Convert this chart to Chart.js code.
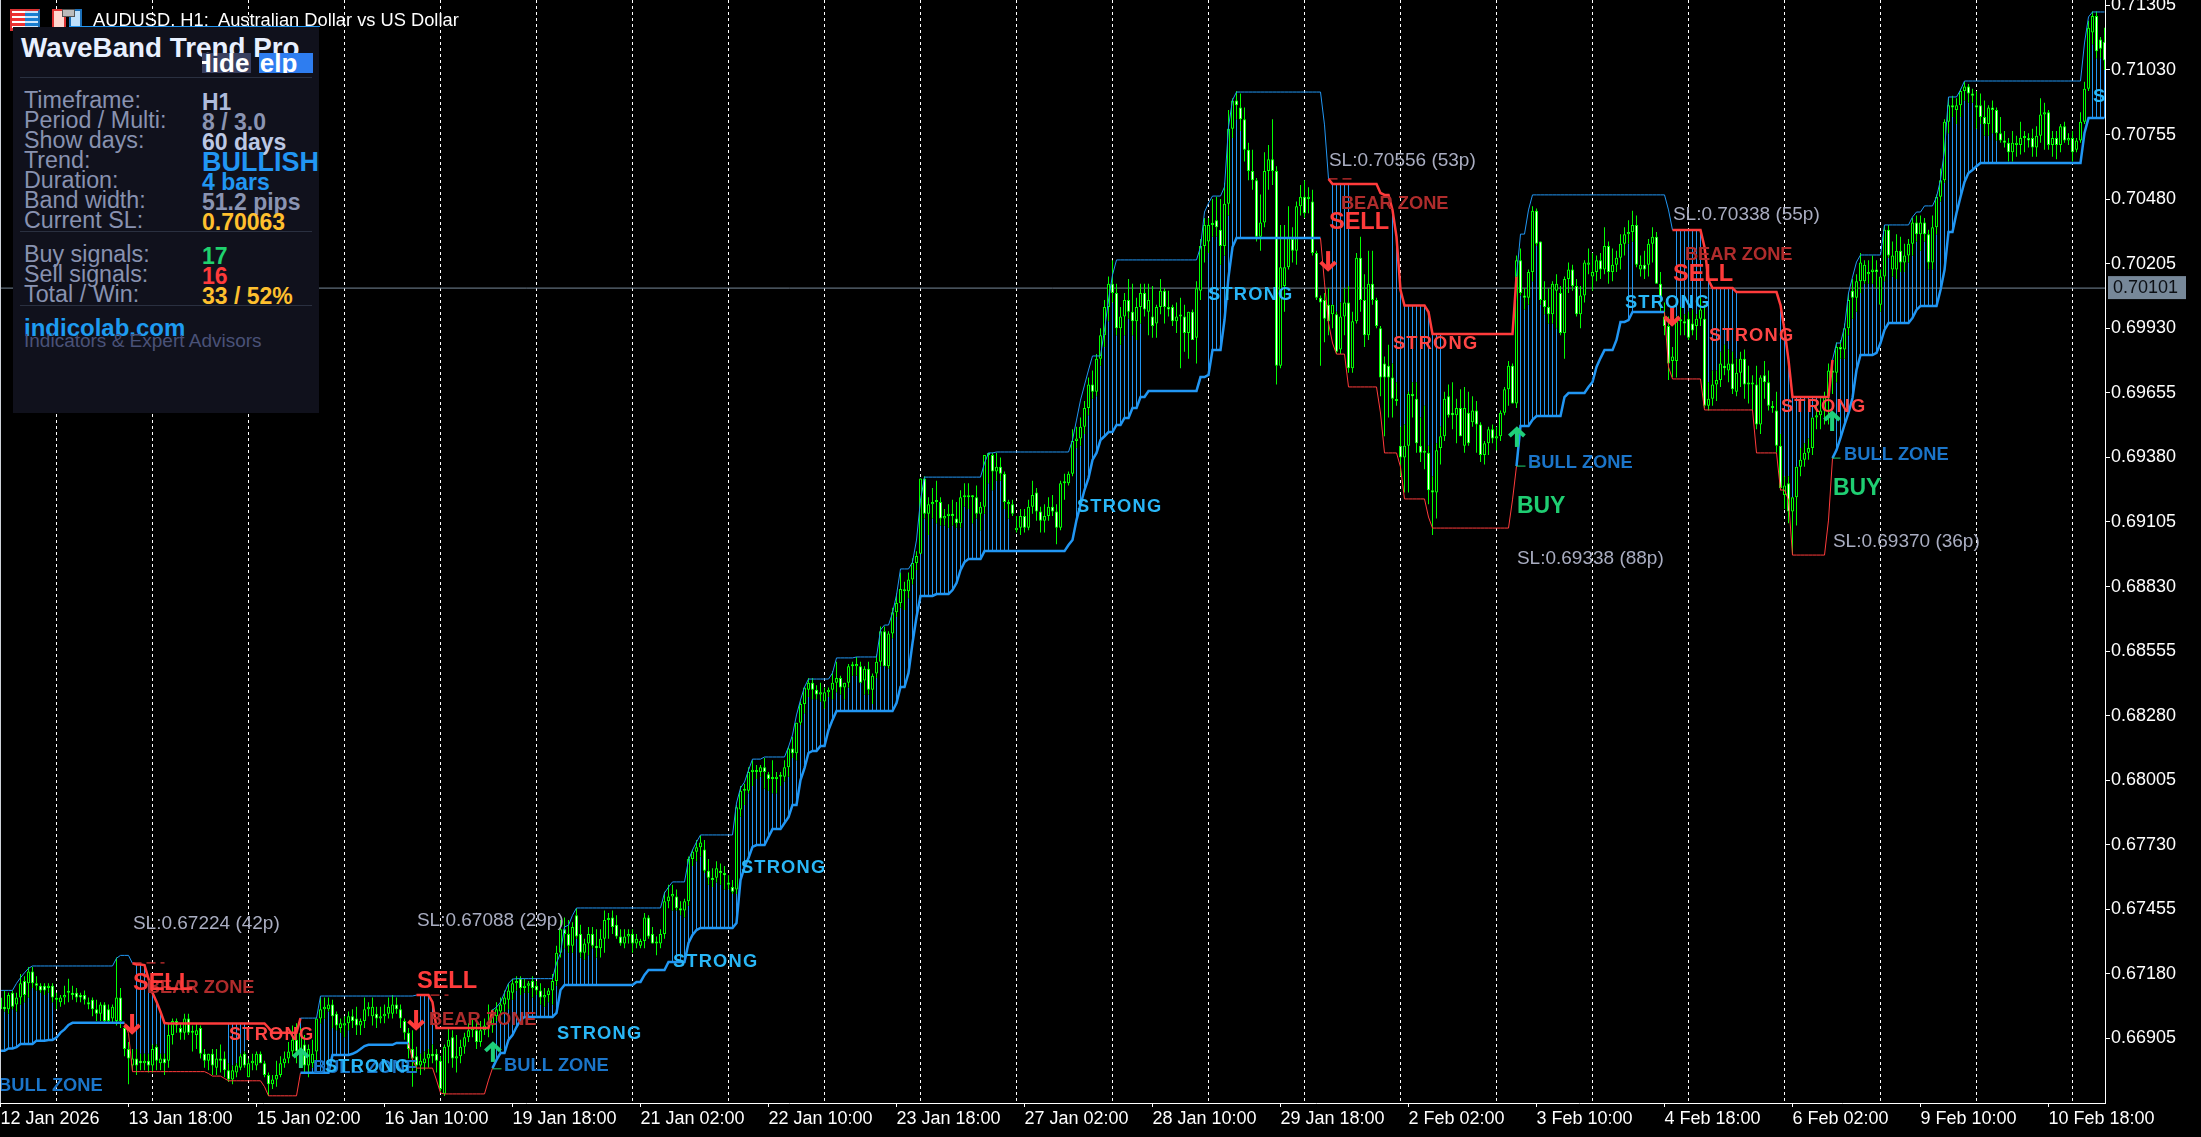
<!DOCTYPE html>
<html><head><meta charset="utf-8">
<style>
html,body{margin:0;padding:0;background:#000;overflow:hidden}
#wrap{position:relative;width:2201px;height:1137px;font-family:"Liberation Sans",Arial,sans-serif}
canvas{position:absolute;left:0;top:0}
.t{position:absolute;white-space:nowrap;line-height:1;transform:translateY(-50%)}
</style>
<script src="https://cdn.jsdelivr.net/npm/chart.js@4/dist/chart.umd.min.js"></script>
</head><body><div id="wrap"><canvas id="c" width="2201" height="1137"></canvas><div id="ui"></div></div>
<script>
// Candles in pips of price (6710 = 0.6710): [open, high, low, close]
const barsA=[[6703,6711,6701,6708],[6704,6711,6702,6703],[6703,6710,6701,6709],[6710,6711,6703,6704],[6705,6710,6702,6708],[6708,6718,6705,6714],[6715,6717,6706,6709],[6714,6721,6708,6719],[6719,6721,6712,6714],[6714,6717,6711,6713],[6713,6714,6710,6711],[6713,6714,6709,6711],[6712,6714,6710,6713],[6713,6714,6706,6708],[6707,6710,6703,6707],[6706,6709,6704,6708],[6708,6713,6705,6709],[6710,6716,6706,6710],[6710,6713,6707,6709],[6710,6712,6706,6708],[6709,6710,6706,6708],[6709,6711,6705,6707],[6706,6708,6703,6705],[6707,6708,6700,6703],[6703,6707,6698,6701],[6701,6706,6698,6705],[6705,6706,6697,6698],[6703,6705,6697,6698],[6699,6705,6697,6704],[6698,6725,6696,6708],[6708,6712,6695,6698],[6695,6696,6683,6686],[6686,6689,6671,6682],[6679,6686,6677,6682],[6682,6686,6675,6679],[6681,6684,6677,6680],[6680,6684,6677,6681],[6681,6684,6676,6679],[6679,6688,6676,6686],[6687,6688,6677,6681],[6680,6684,6677,6682],[6682,6684,6675,6680],[6681,6697,6678,6692],[6692,6699,6688,6698],[6698,6699,6693,6696],[6695,6697,6690,6693],[6693,6701,6690,6699],[6699,6701,6692,6693]];
const barsB=[[6693,6696,6685,6693],[6692,6697,6686,6694],[6695,6696,6682,6684],[6684,6686,6678,6681],[6681,6684,6677,6684],[6684,6686,6675,6679],[6678,6686,6675,6682],[6682,6688,6676,6681],[6682,6685,6674,6677],[6677,6680,6672,6673],[6673,6679,6671,6677],[6676,6680,6674,6679],[6678,6684,6677,6683],[6684,6685,6678,6679],[6674,6682,6674,6680],[6680,6684,6677,6681],[6679,6685,6677,6684],[6684,6685,6680,6680],[6680,6681,6674,6675],[6675,6676,6666,6671],[6671,6675,6669,6673],[6673,6681,6670,6675],[6675,6683,6674,6680],[6680,6685,6678,6682],[6682,6689,6680,6685],[6685,6696,6683,6690],[6690,6697,6680,6685],[6686,6695,6680,6693],[6688,6692,6676,6679],[6679,6688,6674,6686],[6680,6690,6678,6684],[6685,6699,6681,6699],[6699,6708,6697,6703],[6703,6708,6699,6704],[6703,6708,6702,6705],[6705,6707,6695,6700],[6701,6702,6694,6696],[6695,6699,6693,6697],[6696,6700,6691,6697],[6697,6702,6694,6700],[6700,6703,6695,6698],[6699,6704,6692,6696],[6696,6699,6692,6698],[6698,6708,6695,6703],[6703,6706,6700,6704],[6700,6708,6696,6704],[6701,6704,6695,6699],[6699,6704,6697,6700]];
const barsC=[[6700,6705,6697,6701],[6701,6708,6699,6704],[6701,6709,6699,6705],[6705,6708,6701,6703],[6703,6705,6695,6699],[6698,6699,6690,6693],[6693,6695,6682,6686],[6686,6694,6670,6682],[6683,6687,6676,6679],[6679,6684,6675,6681],[6680,6685,6677,6682],[6682,6686,6678,6684],[6684,6688,6680,6683],[6684,6686,6676,6681],[6681,6683,6668,6669],[6667,6688,6666,6687],[6687,6695,6680,6690],[6691,6694,6678,6682],[6682,6692,6676,6683],[6683,6690,6680,6687],[6687,6693,6684,6691],[6691,6697,6689,6694],[6694,6699,6691,6695],[6694,6698,6686,6689],[6689,6698,6687,6694],[6694,6699,6692,6696],[6696,6705,6691,6697],[6696,6703,6693,6700],[6700,6706,6698,6703],[6702,6708,6700,6705],[6705,6711,6702,6708],[6707,6714,6703,6711],[6710,6716,6707,6714],[6714,6717,6711,6715],[6716,6717,6709,6712],[6712,6716,6710,6713],[6713,6715,6710,6714],[6715,6717,6708,6712],[6713,6715,6709,6711],[6711,6714,6705,6708],[6708,6712,6704,6709],[6709,6712,6706,6711],[6711,6718,6705,6715],[6715,6730,6713,6727],[6727,6741,6725,6737],[6737,6742,6729,6735],[6735,6741,6727,6730],[6730,6740,6727,6738]];
const barsD=[[6743,6746,6733,6734],[6735,6739,6725,6727],[6727,6733,6724,6731],[6731,6738,6726,6735],[6735,6738,6729,6730],[6730,6737,6725,6729],[6729,6737,6725,6733],[6733,6745,6727,6741],[6741,6744,6733,6741],[6742,6745,6735,6738],[6739,6743,6733,6734],[6734,6737,6730,6731],[6731,6737,6729,6734],[6734,6737,6731,6735],[6735,6737,6727,6731],[6731,6735,6729,6733],[6730,6733,6729,6732],[6732,6744,6729,6742],[6742,6743,6733,6734],[6735,6738,6731,6731],[6731,6734,6726,6731],[6731,6737,6729,6735],[6735,6753,6733,6749],[6749,6756,6746,6751],[6751,6756,6745,6752],[6751,6754,6745,6746],[6746,6749,6743,6745],[6745,6750,6742,6749],[6749,6768,6747,6767],[6767,6771,6764,6770],[6770,6775,6766,6772],[6772,6777,6768,6774],[6771,6775,6761,6762],[6762,6767,6756,6759],[6759,6763,6755,6758],[6759,6766,6757,6763],[6762,6765,6756,6761],[6761,6764,6754,6760],[6757,6760,6754,6756],[6755,6758,6752,6753],[6754,6790,6752,6789],[6788,6798,6785,6796],[6796,6799,6790,6796],[6796,6806,6795,6804],[6804,6809,6798,6805],[6804,6807,6801,6804.5],[6804,6807,6802,6806],[6806,6810,6797,6804]];
const barsE=[[6803,6804,6796,6801],[6801,6809,6795,6801],[6801,6804,6795,6802],[6802,6804,6798,6802],[6802,6809,6800,6806],[6806,6815,6802,6814],[6814,6819,6810,6812],[6812,6825,6809,6825],[6825,6834,6824,6833],[6833,6840,6829,6840],[6839,6844,6836,6842],[6842,6844,6835,6839],[6839,6841,6835,6837],[6837,6842,6834,6838],[6834,6840,6831,6838],[6838,6840,6836,6839],[6839,6847,6835,6842],[6842,6851,6838,6844],[6844,6845,6837,6840],[6840,6842,6835,6842],[6842,6850,6840,6849],[6849,6851,6845,6849],[6849,6853,6845,6850],[6849,6851,6842,6842],[6843,6849,6837,6848],[6848,6851,6837,6839],[6839,6846,6833,6845],[6846,6854,6844,6851],[6851,6866,6849,6864],[6864,6866,6849,6849],[6849,6864,6848,6863],[6863,6874,6861,6872],[6872,6880,6870,6876],[6876,6889,6874,6882],[6881,6885,6873,6881.5],[6881,6889,6878,6886],[6886,6895,6884,6893],[6893,6898,6890,6896],[6897,6929,6897,6929],[6929,6930,6912,6914],[6914,6921,6905,6918],[6918,6925,6912,6919],[6919,6928,6910,6919],[6919,6921,6909,6912],[6912,6916,6909,6913],[6913,6918,6908,6914],[6914,6920,6909,6913],[6912,6919,6908,6910]];
const barsF=[[6910,6924,6908,6921],[6921,6927,6917,6921],[6921,6927,6916,6921.5],[6921,6922,6910,6921],[6921,6926,6912,6914],[6914,6919,6907,6917],[6917,6939,6914,6939],[6939,6940,6927,6939],[6939,6940,6924,6932],[6932,6940,6928,6934],[6934,6938,6928,6931],[6931,6932,6916,6919],[6918,6920,6912,6919],[6918,6920,6913,6914],[6907,6913,6906,6908],[6908,6916,6905,6913],[6913,6916,6906,6908],[6908,6920,6907,6917],[6917,6928,6914,6922],[6923,6925,6911,6915],[6915,6917,6906,6911],[6911,6918,6906,6913],[6913,6921,6911,6917],[6917,6922,6913,6915],[6915,6918,6901,6908],[6908,6928,6907,6927],[6927,6931,6920,6927],[6927,6932,6926,6931],[6931,6950,6930,6945],[6945,6951,6942,6946],[6946,6955,6943,6951],[6951,6962,6948,6959],[6959,6972,6956,6969],[6969,6975,6963,6966],[6966,6982,6964,6980],[6980,6993,6977,6990],[6990,7005,6985,7002],[7002,7015,6996,7012],[7012,7022,7004,7008],[7008,7012,6990,6993],[6993,7002,6986,6998],[6998,7008,6990,7005],[7005,7014,6997,7000],[7000,7012,6990,6996],[6996,7006,6988,7002],[7002,7012,6995,7008],[7008,7012,6998,7001],[7000,7012,6990,7005]];
const barsG=[[6998,7011,6989,6994],[6995,7003,6989,7002],[7002,7014,6999,7009],[7009,7010,6995,7002],[7002,7009,6998,7001],[7002,7003,6994,6996],[6996,7004,6991,6998],[6998,7006,6976,6998],[6998,7003,6983,6991],[6991,7000,6980,7000],[7000,7001,6988,6988],[6989,7013,6978,7010],[7009,7031,7005,7028],[7028,7040,7021,7037],[7030,7040,7025,7037],[7037,7048,7032,7037.5],[7039,7049,7032,7036],[7035,7048,7020,7028],[7028,7055,7024,7046],[7046,7086,7041,7078],[7078,7091,7074,7090],[7090,7094,7082,7088],[7087,7093,7077,7082],[7082,7087,7064,7069],[7069,7072,7056,7060],[7060,7069,7052,7056],[7056,7057,7030,7032],[7032,7050,7026,7038],[7038,7068,7036,7060],[7060,7071,7052,7065],[7065,7082,7054,7060],[7060,7062,6969,6977],[6977,7037,6976,7019],[7011,7037,7000,7019],[7019,7045,7018,7032],[7031,7036,7021,7026],[7026,7047,7020,7045],[7045,7054,7041,7049],[7049,7056,7040,7042],[7048,7053,7042,7049],[7047,7052,7024,7025],[7025,7026,7005,7006],[7006,7007,6977,7004],[7005,7008,6987,6997],[7003,7010,6990,6996],[6999,7003,6993,7003],[6999,7000,6982,6983],[6984,7004,6982,6998]];
const barsH=[[6998,7010,6990,7004],[7004,7011,6974,6976],[6976,7000,6974,6996],[6996,7025,6995,7023],[7023,7032,7000,7005],[7005,7016,6985,6990],[6990,7026,6988,7012],[7012,7026,7003,7005],[7005,7006,6993,6994],[6993,6994,6964,6972],[6978,6981,6947,6972],[6977,6986,6955,6972],[6972,6978,6955,6963],[6962,6970,6960,6962],[6943,6951,6930,6938],[6938,6952,6923,6943],[6943,6966,6923,6965],[6965,6970,6955,6964],[6963,6970,6940,6944],[6943,6955,6936,6940],[6940,6960,6933,6940],[6940,6943,6918,6924],[6924,6930,6905,6923],[6923,6944,6912,6941],[6942,6951,6935,6947],[6947,6966,6945,6963],[6964,6969,6955,6956],[6957,6970,6950,6956],[6956,6963,6944,6959],[6959,6967,6947,6947],[6943,6968,6940,6959],[6957,6966,6943,6944],[6953,6964,6951,6958],[6958,6962,6940,6952],[6952,6953,6936,6939],[6939,6945,6935,6944],[6944,6951,6939,6950],[6950,6952,6944,6946],[6946,6951,6941,6947],[6947,6958,6945,6957],[6957,6968,6956,6967],[6967,6979,6960,6977],[6977,6978,6961,6961],[6961,7024,6959,7022],[7022,7027,7007,7008],[7007,7010,7001,7006],[7006,7018,7003,7017],[7017,7045,7013,7043]];
const barsI=[[7043,7044,7028,7029],[7030,7030,7003,7005],[7005,7013,6999,7002],[7002,7010,6995,6999],[6999,7013,6995,7012],[7009,7016,6993,7012],[7008,7011,6990,6991],[6991,7015,6980,7014],[7014,7021,7008,7018],[7018,7020,7009,7011],[7011,7014,6998,6999],[6999,7011,6993,7007],[7007,7022,7004,7021],[7020,7027,7016,7021],[7015,7025,7009,7017],[7017,7024,7013,7022],[7022,7025,7014,7018],[7018,7036,7016,7028],[7028,7030,7012,7017],[7017,7027,7013,7020],[7020,7026,7017,7023],[7023,7033,7018,7029],[7029,7036,7024,7033],[7033,7039,7029,7034],[7034,7043,7030,7037],[7037,7041,7019,7020],[7018,7024,7015,7020],[7020,7026,7014,7018],[7020,7031,7015,7029],[7029,7036,7021,7032],[7032,7034,7012,7012],[7012,7017,7000,7006],[6998,7004,6990,6994],[6994,6998,6971,6978],[6979,6985,6972,6981],[6979,6998,6972,6996],[6996,7002,6990,6996],[6996,6999,6990,6995],[6997,7000,6988,6989],[6995,7001,6990,6992],[6994,6999,6988,6997],[6997,7006,6994,7001],[6997,7003,6959,6960],[6960,6970,6958,6963],[6963,6975,6960,6969],[6969,6975,6962,6971],[6971,6983,6968,6978],[6977,6986,6973,6976]];
const barsJ=[[6975,6984,6970,6978],[6978,6983,6965,6967],[6966,6980,6964,6974],[6974,6983,6968,6980],[6980,6984,6963,6969],[6969,6977,6961,6969],[6969,6973,6958,6969.5],[6969,6977,6950,6952],[6952,6973,6948,6972],[6973,6979,6963,6970],[6970,6975,6958,6960],[6959,6962,6957,6959.5],[6958,6966,6940,6943],[6943,6948,6924,6925],[6922,6930,6916,6926],[6927,6930,6910,6915],[6915,6921,6897,6921],[6921,6934,6909,6934],[6934,6942,6930,6937],[6937,6944,6934,6940],[6940,6946,6937,6942],[6942,6955,6939,6955],[6955,6960,6950,6956],[6956,6963,6950,6958],[6958,6966,6952,6964],[6964,6978,6952,6975],[6975,6979,6965,6974],[6974,6987,6970,6985],[6985,6988,6980,6984],[6984,6995,6980,6993],[6993,7008,6990,7005],[7009,7014,6997,7006],[7006,7016,7000,7013],[7013,7025,7008,7021],[7013,7022,7012,7020],[7016,7022,7012,7017],[7017,7024,7012,7018],[7018,7022,7010,7017],[7003,7018,7000,7015],[7015,7037,7013,7035],[7035,7037,7023,7024],[7018,7030,7015,7024],[7018,7033,7014,7026],[7026,7032,7017,7021],[7021,7029,7017,7024],[7024,7031,7021,7029],[7029,7040,7024,7038],[7038,7041,7030,7033]];
const barsK=[[7033,7041,7026,7038],[7038,7040,7030,7033],[7033,7035,7018,7021],[7021,7041,7018,7036],[7036,7050,7033,7049],[7049,7061,7047,7056],[7056,7082,7055,7081],[7081,7091,7076,7088],[7088,7092,7083,7087],[7086,7091,7080,7088],[7088,7095,7083,7094],[7094,7098,7090,7096],[7096,7097,7089,7093],[7093,7095,7089,7092],[7088,7094,7078,7087],[7088,7093,7080,7083],[7083,7090,7075,7080],[7080,7088,7075,7087],[7087,7090,7076,7086],[7086,7087,7073,7076],[7076,7083,7072,7073],[7073,7077,7070,7072],[7072,7074,7064,7068],[7068,7077,7064,7072],[7071,7075,7066,7072],[7071,7081,7067,7074],[7074,7077,7068,7074.5],[7074,7076,7070,7073],[7074,7078,7066,7070],[7070,7079,7066,7075],[7075,7091,7072,7084],[7084,7089,7069,7085],[7085,7086,7069,7071],[7071,7077,7066,7074],[7074,7077,7065,7071],[7071,7080,7068,7079],[7079,7081,7072,7073],[7073,7076,7071,7074],[7074,7077,7064,7068],[7069,7074,7068,7073],[7073,7085,7072,7081],[7081,7098,7080,7095],[7095,7124,7094,7121],[7119,7128,7114,7126],[7126,7128,7108,7111],[7116,7117,7108,7112],[7115,7121,7103,7107]];
const barChunks=[[0,barsA],[48,barsB],[96,barsC],[144,barsD],[192,barsE],[240,barsF],[288,barsG],[336,barsH],[384,barsI],[432,barsJ],[480,barsK]];

// Band levels: [first bar of the level, level in pips]
const upperSteps=[[0,6711],[4,6714],[5,6716.4],[6,6718.5],[7,6720.4],[8,6721.4],[29,6724.7],[30,6725.9],[33,6722.5],[34,6722],[36,6721.8],[37,6716],[38,6710],[39,6706.2],[40,6701.9],[41,6697.1],[42,6696.9],[67,6695.1],[68,6693],[75,6699.2],[80,6708.6],[104,6709],[108,6706],[109,6695],[123,6702.6],[124,6703.9],[125,6706],[126,6710],[127,6714],[128,6715.8],[129,6716],[139,6722.6],[140,6726.9],[141,6738],[142,6738.8],[143,6743],[144,6746.1],[166,6752.5],[167,6755],[168,6757.2],[172,6766.5],[173,6770.8],[174,6774.2],[175,6777.2],[184,6790.8],[185,6797.2],[186,6799.7],[187,6804.8],[188,6809.5],[191,6810.4],[197,6814.7],[198,6819.8],[199,6828.3],[200,6834.7],[201,6840.2],[202,6843.6],[208,6846.2],[209,6852.6],[214,6853],[220,6864.5],[221,6866.6],[223,6871.7],[224,6879.4],[225,6890.5],[228,6893.4],[229,6902.8],[230,6919.8],[231,6929.6],[246,6935.6],[247,6939.9],[249,6940.3],[268,6945.4],[269,6953.9],[270,6962.4],[271,6968.8],[272,6975.2],[273,6981.2],[276,6992.3],[277,7005],[278,7015.7],[279,7022.1],[300,7027.6],[301,7042.5],[302,7046.3],[303,7049.3],[306,7053.2],[307,7078.7],[308,7090.2],[309,7093.6],[331,7079.6],[332,7056.6],[333,7054.4],[345,7050.6],[346,7049.8],[348,7043.4],[349,7031.9],[350,7009.3],[351,7002.7],[357,6999.9],[358,6990.6],[379,7015],[380,7033.1],[382,7043.4],[383,7049.8],[417,7043.4],[418,7034.8],[426,7027.6],[427,7013.5],[428,7010.1],[434,7008.4],[445,7002.9],[446,6992.3],[447,6979.5],[448,6963.7],[458,6979.5],[459,6986.7],[461,6993.5],[462,7008],[463,7014.8],[464,7021.2],[465,7024.2],[471,7037],[478,7040.4],[479,7042.5],[481,7045.1],[484,7048.9],[485,7056.1],[486,7068.9],[487,7091.5],[490,7094.5],[491,7098.3],[521,7114.5],[522,7125.6],[523,7127.7]];
const lowerSteps=[[0,6685.3],[2,6686.3],[4,6686.8],[5,6688.2],[9,6689.6],[12,6689.9],[14,6690.9],[15,6693],[16,6694.4],[17,6696.3],[18,6697.2],[32,6692.7],[33,6676.4],[52,6675.6],[53,6674.5],[56,6673.5],[57,6672.5],[66,6670],[67,6666.1],[75,6675.9],[83,6683.5],[88,6684],[89,6684.8],[90,6686],[91,6687.3],[92,6687.8],[99,6688.6],[103,6681.4],[104,6677.9],[109,6672.8],[110,6667.3],[111,6666.9],[122,6672.8],[123,6677.9],[124,6681.4],[125,6684.3],[127,6689.9],[128,6692],[129,6695.4],[130,6698.4],[131,6699.7],[139,6701.4],[140,6711.2],[141,6713.3],[159,6714.6],[161,6717.6],[162,6719.7],[167,6723.1],[172,6731.2],[173,6734.6],[174,6736.7],[175,6737.6],[184,6739.7],[185,6758],[186,6763.5],[187,6767.4],[188,6772.1],[189,6772.9],[192,6776.3],[193,6779.7],[196,6782.3],[197,6784.8],[198,6790],[200,6800.6],[201,6805.7],[202,6812.1],[203,6813],[205,6815.1],[207,6821.9],[208,6826.2],[209,6830],[224,6833.4],[225,6840.2],[227,6846.2],[228,6858.9],[229,6870],[230,6879],[234,6879.8],[238,6881.5],[239,6884.5],[240,6890],[241,6893.4],[242,6894.7],[246,6898.1],[267,6900.7],[268,6902.8],[269,6911.3],[270,6917.8],[271,6924.1],[272,6929.2],[273,6936.9],[274,6939.9],[275,6945.4],[276,6947],[277,6948.8],[279,6951.8],[281,6954.8],[283,6959],[285,6963.7],[287,6966.3],[300,6972.2],[302,6973.1],[303,6983.7],[306,6996.5],[307,7014.8],[308,7027.6],[309,7031.4],[331,7012.3],[332,6995.2],[333,6986.7],[334,6982],[337,6968],[345,6956.9],[346,6939.9],[350,6933.9],[351,6920.3],[357,6912.6],[358,6907.9],[378,6919.9],[379,6934.3],[380,6951.4],[383,6954],[384,6955.6],[391,6963.7],[392,6965.4],[397,6968],[398,6970.1],[399,6976.5],[400,6980.3],[401,6983.7],[404,6988],[405,6995.7],[407,6996.5],[408,6999.9],[417,6976.5],[418,6971.4],[426,6958.2],[439,6939.9],[445,6924.1],[447,6919.9],[448,6896.4],[457,6911.3],[458,6937.7],[459,6941.1],[460,6946.3],[461,6951.8],[462,6956.9],[463,6963.3],[464,6975.2],[465,6981.6],[469,6982.5],[470,6986.7],[471,6992.3],[472,6995.2],[478,6997.4],[479,7000.8],[480,7002.5],[485,7009.3],[486,7017.8],[487,7034],[489,7042.1],[490,7048.9],[491,7055.3],[492,7059.1],[493,7060.4],[494,7062],[495,7063.4],[521,7076.2],[522,7082.5]];
const bearRanges=[[34,75],[105,123],[333,379],[419,458]];
const histRanges=[[0,13],[34,41],[57,61],[75,87],[105,108],[123,139],[141,149],[168,252],[269,285],[302,310],[333,337],[348,360],[379,389],[407,408],[419,425],[427,434],[445,457],[459,499],[523,526]];
const currentPrice=7010.1;
const xTickBars=[0,32,64,96,128,160,192,224,256,288,320,352,384,416,448,480,512];
const xTickLabels=["12 Jan 2026","13 Jan 18:00","15 Jan 02:00","16 Jan 10:00","19 Jan 18:00","21 Jan 02:00","22 Jan 10:00","23 Jan 18:00","27 Jan 02:00","28 Jan 10:00","29 Jan 18:00","2 Feb 02:00","3 Feb 10:00","4 Feb 18:00","6 Feb 02:00","9 Feb 10:00","10 Feb 18:00"];
const gridBars=[14,38,62,86,110,134,158,182,206,230,254,278,302,326,350,374,398,422,446,470,494,518];
const yTicks=[0.71305,0.7103,0.70755,0.7048,0.70205,0.6993,0.69655,0.6938,0.69105,0.6883,0.68555,0.6828,0.68005,0.6773,0.67455,0.6718,0.66905];
// Chart annotations anchored to [bar, price in pips]
const bullZoneAt=[[-0.6,6670.3],[78.1,6677.9],[125.9,6678.8],[381.9,6935.6],[460.9,6939]];
const strongBullAt=[[81.1,6678.4],[139.1,6692.4],[168.1,6723.1],[185.1,6763.1],[269.1,6916.9],[301.9,7007.2],[406.1,7003.8],[523.1,7091.5]];
const strongBearAt=[[57.1,6692],[348.1,6986.3],[427.1,6989.7],[445.1,6959.5]];
const sellAt=[[33.1,6714.1],[104.1,6715],[332.1,7038.2],[418.1,7015.7]];
const bearZoneAt=[[36.6,6712],[107.1,6698.4],[335.1,7045.9],[421.1,7024.2]];
const buyAt=[[379.1,6916.9],[458.1,6924.5]];
const slNotes=[[33.1,6739.3,"SL:0.67224 (42p)"],[104.1,6740.6,"SL:0.67088 (29p)"],[332.1,7064.2,"SL:0.70556 (53p)"],[418.1,7041.2,"SL:0.70338 (55p)"],[379.1,6894.7,"SL:0.69338 (88p)"],[458.1,6901.9,"SL:0.69370 (36p)"]];
const downArrows=[[32.9,6696.7],[103.9,6698.4],[331.9,7021.6],[417.9,6998.2]];
const upArrows=[[75.1,6682.2],[123.1,6684.8],[379.1,6946.7],[457.9,6953.5]];
const slDashesRed=[[33,41,6722.7],[104,112,6709],[332,339,7056.6]];
const slDashesGreen=[[123,127,6677.6],[379,386,6934.3],[458,460,6937.7]];
const panelLabels=["Timeframe:","Period / Multi:","Show days:","Trend:","Duration:","Band width:","Current SL:"];
const panelValues=["H1","8 / 3.0","60 days","BULLISH","4 bars","51.2 pips","0.70063"];
const panelValueColors=["#aebbdc","#8a94b2","#bcc8e4","#2196f3","#2196f3","#8a94b2","#ffc02e"];
const statLabels=["Buy signals:","Sell signals:","Total / Win:"];
const statValues=["17","16","33 / 52%"];
const statColors=["#1fd26e","#ff3b3b","#ffc02e"];

const P=v=>v/10000;
const ohlc=[];
barChunks.forEach(([s,rows])=>rows.forEach((r,k)=>{ohlc[s+k]=r;}));
function fillSteps(steps){const out=[];let k=0;for(let i=0;i<ohlc.length;i++){while(k+1<steps.length&&steps[k+1][0]<=i)k++;out.push(steps[k][1]);}return out;}
const upper=fillSteps(upperSteps),lower=fillSteps(lowerSteps);
const isBear=i=>bearRanges.some(r=>i>=r[0]&&i<=r[1]);
const inHist=i=>histRanges.some(r=>i>=r[0]&&i<=r[1]);
const wicks=[],bodies=[],fills=[],hist=[];
ohlc.forEach((r,i)=>{ if(!r)return;
  wicks.push({x:i,y:[P(r[2]),P(r[1])]});
  bodies.push({x:i,y:[P(r[0]),P(r[3])]});
  fills.push(r[3]<r[0]?'#ffffff':'#000000');
  if(inHist(i)){ if(isBear(i)){ if(upper[i]>r[1]) hist.push({x:i,y:[P(r[1]),P(upper[i])]}); }
    else if(lower[i]<r[2]) hist.push({x:i,y:[P(lower[i]),P(r[2])]}); }
});
const BLUE='#2196f3',RED='#ff3b3b',LIME='#00ff00';
const upperSeg={borderColor:c=>isBear(c.p1DataIndex)?RED:BLUE,borderWidth:c=>isBear(c.p1DataIndex)?2.5:1};
// the lower band turns red two bars before the upper band does
const lowerBear=i=>isBear(i)||isBear(i+2);
const lowerSeg={borderColor:c=>lowerBear(c.p1DataIndex)?RED:BLUE,borderWidth:c=>lowerBear(c.p1DataIndex)?1:2.5};
const annotate={id:'annotate',afterDatasetsDraw(ch){
  const {ctx,chartArea:a,scales:{x,y}}=ch;
  const X=b=>x.getPixelForValue(b),Y=p=>y.getPixelForValue(P(p));
  ctx.save();ctx.beginPath();ctx.rect(0,0,a.right,a.bottom);ctx.clip();
  ctx.textBaseline='middle';ctx.textAlign='left';
  const put=(list,font,color,sp)=>{ctx.font=font;ctx.fillStyle=color;ctx.letterSpacing=sp||'0px';
    list.forEach(e=>ctx.fillText(e[2]||put.t,X(e[0]),Y(e[1])));ctx.letterSpacing='0px';};
  ctx.lineWidth=1;
  ctx.setLineDash([9,5]);ctx.strokeStyle=RED;
  slDashesRed.forEach(d=>{ctx.beginPath();ctx.moveTo(X(d[0]),Y(d[2]));ctx.lineTo(X(d[1]),Y(d[2]));ctx.stroke();});
  ctx.strokeStyle='#1fd26e';
  slDashesGreen.forEach(d=>{ctx.beginPath();ctx.moveTo(X(d[0]),Y(d[2]));ctx.lineTo(X(d[1]),Y(d[2]));ctx.stroke();});
  ctx.setLineDash([]);
  const arrow=(b,p,dir,col)=>{const cx=X(b),cy=Y(p);ctx.strokeStyle=col;ctx.lineWidth=4;ctx.lineJoin='miter';
    ctx.beginPath();ctx.moveTo(cx,cy-10*dir);ctx.lineTo(cx,cy+7*dir);ctx.stroke();
    ctx.beginPath();ctx.moveTo(cx-7.5,cy+1*dir);ctx.lineTo(cx,cy+8*dir);ctx.lineTo(cx+7.5,cy+1*dir);ctx.stroke();};
  upArrows.forEach(e=>arrow(e[0],e[1],-1,'#1fd07a'));
  downArrows.forEach(e=>arrow(e[0],e[1],1,RED));
  put.t='BULL ZONE';put(bullZoneAt,'bold 18.3px "Liberation Sans"','#1b75c9');
  put.t='BEAR ZONE';put(bearZoneAt,'bold 18.3px "Liberation Sans"','#b02c2c');
  put.t='STRONG';put(strongBullAt,'bold 18.3px "Liberation Sans"','#29b6f6','1.2px');
  put.t='STRONG';put(strongBearAt,'bold 18.3px "Liberation Sans"','#ff4545','1.2px');
  put.t='SELL';put(sellAt,'bold 23.6px "Liberation Sans"',RED);
  put.t='BUY';put(buyAt,'bold 23px "Liberation Sans"','#1fce72');
  put(slNotes,'19px "Liberation Sans"','#a9adc1');
  ctx.restore();
  // left edge of the plot and the current-price tag
  ctx.save();ctx.fillStyle='#cfd3da';ctx.fillRect(0,0,1,a.bottom);
  const ty=Y(currentPrice);
  ctx.fillStyle='#778899';ctx.fillRect(a.right+3,ty-12,78,23);
  ctx.fillStyle='#0c0f14';ctx.font='18px "Liberation Sans"';ctx.textBaseline='middle';ctx.textAlign='left';
  ctx.fillText(P(currentPrice).toFixed(5),a.right+8,ty);
  ctx.restore();
}};
const zeroPad=s=>{s.paddingTop=s.paddingBottom=s.paddingLeft=s.paddingRight=0;};
new Chart(document.getElementById('c'),{
  type:'bar',
  plugins:[annotate],
  data:{datasets:[
    {type:'line',label:'Price',data:[{x:-0.125,y:P(currentPrice)},{x:526.125,y:P(currentPrice)}],borderColor:'#778899',borderWidth:1,pointRadius:0,order:5},
    {type:'line',label:'Upper band',data:upper.map((v,i)=>({x:i,y:P(v)})),borderColor:BLUE,borderWidth:1,pointRadius:0,segment:upperSeg,order:1},
    {type:'line',label:'Lower band',data:lower.map((v,i)=>({x:i,y:P(v)})),borderColor:BLUE,borderWidth:2.5,pointRadius:0,segment:lowerSeg,order:1},
    {label:'Bodies',data:bodies,stack:'s',barThickness:3,backgroundColor:fills,borderColor:LIME,borderWidth:1,borderSkipped:false,inflateAmount:0,minBarLength:2,order:2},
    {label:'Wicks',data:wicks,stack:'s',barThickness:1,backgroundColor:LIME,borderWidth:0,inflateAmount:0,order:3},
    {label:'Histogram',data:hist,stack:'s',barThickness:1,backgroundColor:BLUE,borderWidth:0,inflateAmount:0,order:4}
  ]},
  options:{
    responsive:false,animation:false,devicePixelRatio:1,
    layout:{padding:0},
    plugins:{legend:{display:false},tooltip:{enabled:false}},
    scales:{
      x:{type:'linear',stacked:true,offset:false,position:'bottom',min:-0.125,max:526.125,
        afterBuildTicks:s=>{s.ticks=xTickBars.map(v=>({value:v}));},
        afterFit:s=>{s.height=34;zeroPad(s);},
        grid:{offset:false,drawOnChartArea:false,tickColor:'#fff',tickLength:4},
        border:{display:true,color:'#fff'},
        ticks:{color:'#fff',font:{family:'Liberation Sans',size:18},align:'start',autoSkip:false,maxRotation:0,padding:1,
          callback:v=>xTickLabels[xTickBars.indexOf(v)]}},
      x2:{type:'linear',offset:false,position:'bottom',min:-0.125,max:526.125,
        afterBuildTicks:s=>{s.ticks=gridBars.map(v=>({value:v}));},
        afterFit:s=>{s.height=0;zeroPad(s);},
        grid:{offset:false,color:'#fff',lineWidth:1,drawTicks:false},
        border:{display:false,dash:[3,3]},
        ticks:{display:false}},
      y:{type:'linear',stacked:false,position:'right',min:0.666304,max:0.71328,
        afterBuildTicks:s=>{s.ticks=yTicks.map(v=>({value:v}));},
        afterFit:s=>{s.width=96;zeroPad(s);},
        grid:{drawOnChartArea:false,tickColor:'#fff',tickLength:5},
        border:{display:true,color:'#fff'},
        ticks:{color:'#fff',font:{family:'Liberation Sans',size:18},padding:1,autoSkip:false,callback:v=>v.toFixed(5)}}
    }
  }
});
// ---- terminal title, toolbar icons and the info panel as real text ----
const ui=document.getElementById('ui');
function box(l,t,w,h,css,parent){const d=document.createElement('div');d.style.cssText=`position:absolute;left:${l}px;top:${t}px;width:${w}px;height:${h}px;${css||''}`;(parent||ui).appendChild(d);return d;}
function txt(l,cy,s,css,parent){const d=document.createElement('div');d.className='t';d.textContent=s;d.style.cssText=`left:${l}px;top:${cy}px;${css}`;(parent||ui).appendChild(d);return d;}
txt(93,20,'AUDUSD, H1:  Australian Dollar vs US Dollar','font-size:18.3px;color:#fff;white-space:pre');
box(10,9,30,22,'box-sizing:border-box;border:2px solid #d33;border-right-color:#1b6fb8;background:repeating-linear-gradient(180deg,#fff 0 2px,#e33 2px 5px)');
box(25,11,13,18,'background:repeating-linear-gradient(180deg,#cfe6fb 0 2px,#1b7fd0 2px 5px)');
box(52,9,14,22,'box-sizing:border-box;border:2px solid #d33;background:#ffd8d0');
box(69,9,13,22,'box-sizing:border-box;border:2px solid #1b6fb8;background:#bfe0fb');
box(62,9,11,6,'background:#bbb;border:1px solid #555');
const panel=box(13,27,306,386,'background:#10111c;overflow:hidden;font-family:"Liberation Sans"');
box(69,26,251,1,'background:#2196f3');
const PX=13,PY=27;
txt(21-PX,48-PY,'WaveBand Trend Pro','font:bold 27.8px "Liberation Sans";color:#e8f0ff',panel);
const hide=box(202-PX,53-PY,49,20,'background:#3a4060;overflow:hidden',panel);
txt(-9,10,'Hide','font:bold 26px "Liberation Sans";color:#fff',hide);
const help=box(259-PX,53-PY,54,20,'background:#2e7df0;overflow:hidden',panel);
txt(-18,10,'Help','font:bold 26px "Liberation Sans";color:#fff',help);
[77,231,305].forEach(y=>box(20-PX,y-PY,292,1,'background:#2a3040',panel));
panelLabels.forEach((s,k)=>txt(24-PX,100+20*k-PY,s,'font:23.3px "Liberation Sans";color:#8892b0',panel));
panelValues.forEach((s,k)=>txt(202-PX,102+20*k-PY,s,`font:bold ${s==='BULLISH'?27:23}px "Liberation Sans";color:${panelValueColors[k]}`,panel));
statLabels.forEach((s,k)=>txt(24-PX,254+20*k-PY,s,'font:23.3px "Liberation Sans";color:#8892b0',panel));
statValues.forEach((s,k)=>txt(202-PX,256+20*k-PY,s,`font:bold 23px "Liberation Sans";color:${statColors[k]}`,panel));
txt(24-PX,328-PY,'indicolab.com','font:bold 24px "Liberation Sans";color:#1e9bf0',panel);
txt(24-PX,341-PY,'Indicators & Expert Advisors','font:19px "Liberation Sans";color:#4a5278',panel);
</script></body></html>
